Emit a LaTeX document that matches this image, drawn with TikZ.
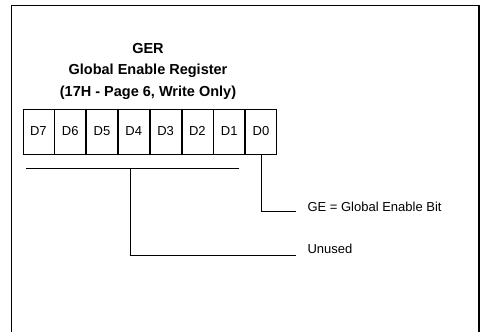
\documentclass[tikz,border=0pt]{standalone}
\usepackage{fontspec}
\setmainfont{Liberation Sans}
\usetikzlibrary{positioning}
\tikzstyle{bitcell} = [draw, line width=0.8pt, minimum width=31pt, minimum height=45pt, inner sep=0pt, font=\fontsize{13}{15}\selectfont]
\tikzstyle{lead}    = [line width=0.8pt]

\begin{document}
\begin{tikzpicture}[
        x=1pt, y=-1pt,
        title/.style={font=\fontsize{14.5}{16}\selectfont\bfseries},
        every node/.style={font=\fontsize{13}{15}\selectfont}
    ]
        \useasboundingbox (0,0) rectangle (481,332);
        % frame, open at the bottom
        \draw[line width=1.2pt] (11.5,332) -- (11.5,5.5) -- (479,5.5) -- (479,332);

        \node[title] (ger) at (148,49) {GER};
        \node[title] (name) at (148,71) {Global Enable Register};
        \node[title] (addr) at (148,93) {(17H - Page 6, Write Only)};

        \node[bitcell, anchor=north west] (d7) at (22.5,108.5) {D7};
        \foreach \i/\j in {6/7,5/6,4/5,3/4,2/3,1/2,0/1} {
            \node[bitcell, right=0pt of d\j] (d\i) {D\i};
        }

        \coordinate (ubl) at (26,168);
        \coordinate (ubr) at (239,168);
        \coordinate (ubm) at (130,168);
        \coordinate (uend) at (296,255);
        \coordinate (gend) at (296,211);

        \node[anchor=west] (ge) at (304,207) {GE = Global Enable Bit};
        \node[anchor=west] (unused) at (304,249) {Unused};

        \draw[lead] (ubl) -- (ubr);
        \draw[lead] (ubm) |- (uend);
        \draw[lead] (d0.south) |- (gend);

    \end{tikzpicture}
\end{document}
